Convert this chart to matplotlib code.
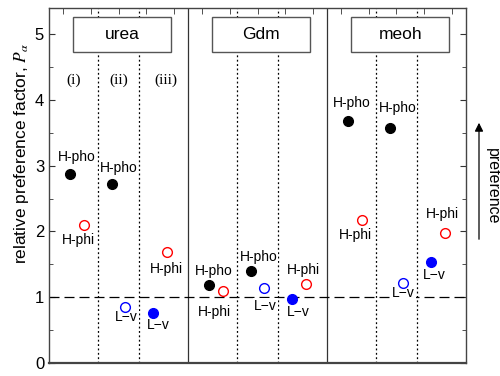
import matplotlib
matplotlib.use('Agg')
import matplotlib.pyplot as plt
from matplotlib.patches import Rectangle, FancyArrowPatch

plt.rcParams['font.family'] = ['Liberation Sans', 'DejaVu Sans']
plt.rcParams['mathtext.fontset'] = 'stix'

# data
solvents = ['urea', 'Gdm', 'meoh']
hpho_i = [2.87, 1.19, 3.68]
hphi_i = [2.09, 1.10, 2.18]
hpho_ii = [2.72, 1.39, 3.57]
lv_ii = [0.85, 1.14, 1.21]
lv_iii = [0.76, 0.97, 1.53]
hphi_iii = [1.68, 1.20, 1.98]
regions = ['(i)', '(ii)', '(iii)']

fig = plt.figure(figsize=(5, 3.76), dpi=100)
ax = fig.add_axes([0.098, 0.035, 0.834, 0.944])
ax.set_xlim(0, 15)
ax.set_ylim(0, 5.4)

# separators
for k in range(3):
    x0 = 5 * k
    if k > 0:
        ax.axvline(x0, color='#333333', lw=0.9)
    ax.axvline(x0 + 1.75, color='black', lw=0.9, ls=(0, (1.5, 2)))
    ax.axvline(x0 + 3.25, color='black', lw=0.9, ls=(0, (1.5, 2)))
ax.axhline(1, color='black', lw=0.9, ls=(0, (8, 4)))

px = 0.72  # pixels -> points
def mark(x, y, face, edge, label, dx, dy):
    ax.plot(x, y, 'o', ms=7, mfc=face, mec=edge, mew=1.0, zorder=5)
    ax.annotate(label, (x, y), xytext=(dx * px, -dy * px), textcoords='offset points',
                ha='center', va='center', fontsize=10, zorder=4,
                bbox=dict(boxstyle='square,pad=0.05', fc='white', ec='none'))

offs = {
    'urea': [(7, -17), (-5, 15), (7, -16), (1, 10), (5, 12), (-1, 17)],
    'Gdm': [(5, -14), (-8, 21), (8, -14), (1, 18), (6, 13), (-3, -14)],
    'meoh': [(4, -18), (-6, 15), (8, -20), (0, 10), (3, 13), (-3, -19)],
}

for k, s in enumerate(solvents):
    x0 = 5 * k
    o = offs[s]
    mark(x0 + 0.75, hpho_i[k], 'black', 'black', 'H-pho', *o[0])
    mark(x0 + 1.25, hphi_i[k], 'none', 'red', 'H-phi', *o[1])
    mark(x0 + 2.25, hpho_ii[k], 'black', 'black', 'H-pho', *o[2])
    mark(x0 + 2.75, lv_ii[k], 'none', 'blue', 'L\u2212v', *o[3])
    mark(x0 + 3.75, lv_iii[k], 'blue', 'blue', 'L\u2212v', *o[4])
    mark(x0 + 4.25, hphi_iii[k], 'none', 'red', 'H-phi', *o[5])

    ax.add_patch(Rectangle((x0 + 0.87, 4.73), 3.52, 0.53, fc='white', ec='#555555',
                           lw=1.0, zorder=7))
    ax.text(x0 + 2.63, 5.0, s, ha='center', va='center', fontsize=12.5, zorder=8)

for x, r in zip([0.9, 2.5, 4.2], regions):
    ax.text(x, 4.3, r, ha='center', va='center', fontsize=11,
            family=['Liberation Serif', 'DejaVu Serif'])

# axes styling
ax.set_yticks([0, 1, 2, 3, 4, 5])
ax.set_yticks([0.5, 1.5, 2.5, 3.5, 4.5], minor=True)
ax.set_xticks([])
ax.set_xticks([i + 0.5 for i in range(15)], minor=True)
ax.tick_params(axis='y', which='both', direction='in', left=True, right=True,
               labelsize=12, colors='#333333', labelcolor='black')
ax.tick_params(axis='y', which='major', length=4)
ax.tick_params(axis='y', which='minor', length=3)
ax.tick_params(axis='x', which='minor', direction='in', top=True, bottom=False,
               length=4, colors='#333333')
for sp in ax.spines.values():
    sp.set_color('#444444')
    sp.set_linewidth(1.0)
ax.spines['bottom'].set_linewidth(1.6)

ax.set_ylabel(r'relative preference factor, $P_\alpha$', fontsize=12.5, va='center')
ax.yaxis.set_label_coords(-0.065, 0.59)

# preference arrow
fig.patches.append(FancyArrowPatch(
    (479 / 500, 1 - 242 / 376), (479 / 500, 1 - 120 / 376), transform=fig.transFigure,
    arrowstyle='-|>,head_length=5,head_width=2.5', color='black', lw=0.9))
fig.text(492 / 500, 1 - 186 / 376, 'preference', rotation=-90, ha='center', va='center',
         fontsize=11.5)

fig.savefig('out.png', dpi=100)
